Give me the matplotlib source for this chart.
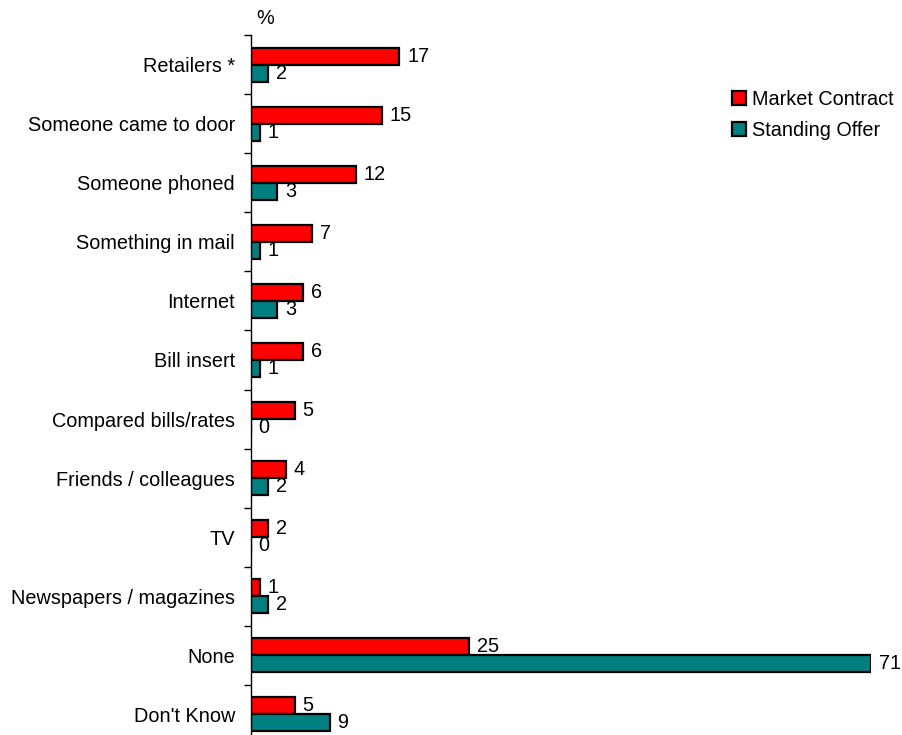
import matplotlib.pyplot as plt
import numpy as np
from matplotlib.patches import Patch

plt.rcParams['font.family'] = ['Liberation Sans', 'DejaVu Sans']

categories = ["Retailers *", "Someone came to door", "Someone phoned",
              "Something in mail", "Internet", "Bill insert",
              "Compared bills/rates", "Friends / colleagues", "TV",
              "Newspapers / magazines", "None", "Don't Know"]
market = [17, 15, 12, 7, 6, 6, 5, 4, 2, 1, 25, 5]
standing = [2, 1, 3, 1, 3, 1, 0, 2, 0, 2, 71, 9]

red = '#ff0000'
teal = '#008080'
fs = 14.3

fig = plt.figure(figsize=(9.02, 7.35), dpi=100)
ax = fig.add_axes([251/902, -9/735, 620/902, 709/735])

y = np.arange(len(categories))
h = 0.288
b1 = ax.barh(y - h/2, market, height=h, color=red, edgecolor='black', linewidth=1.6)
b2 = ax.barh(y + h/2, standing, height=h, color=teal, edgecolor='black', linewidth=1.6)
ax.bar_label(b1, padding=5.5, fontsize=fs)
ax.bar_label(b2, padding=5.5, fontsize=fs)

ax.set_xlim(0, 71)
ax.set_ylim(len(categories) - 0.5, -0.5)

# boundary ticks on the axis, category names centred between them
ax.set_yticks(np.arange(-0.5, len(categories), 1))
ax.set_yticklabels([])
ax.tick_params(axis='y', which='major', direction='out', length=5, width=1)
ax.set_yticks(y, minor=True)
ax.set_yticklabels(categories, minor=True, fontsize=fs)
ax.tick_params(axis='y', which='minor', length=0, pad=11.5)

ax.set_xticks([])
for s in ['top', 'right', 'bottom']:
    ax.spines[s].set_visible(False)
ax.spines['left'].set_linewidth(1)

fig.text(265/902, 1 - 18/735, '%', fontsize=fs, ha='center', va='center')

handles = [Patch(facecolor=red, edgecolor='black', linewidth=1.6),
           Patch(facecolor=teal, edgecolor='black', linewidth=1.6)]
fig.legend(handles, ['Market Contract', 'Standing Offer'], loc='upper left',
           bbox_to_anchor=(724/902, 1 - 82/735), frameon=False, fontsize=fs,
           handlelength=0.7, handleheight=0.7, handletextpad=0.3,
           labelspacing=0.62, borderaxespad=0)

fig.savefig('out.png', dpi=100)
